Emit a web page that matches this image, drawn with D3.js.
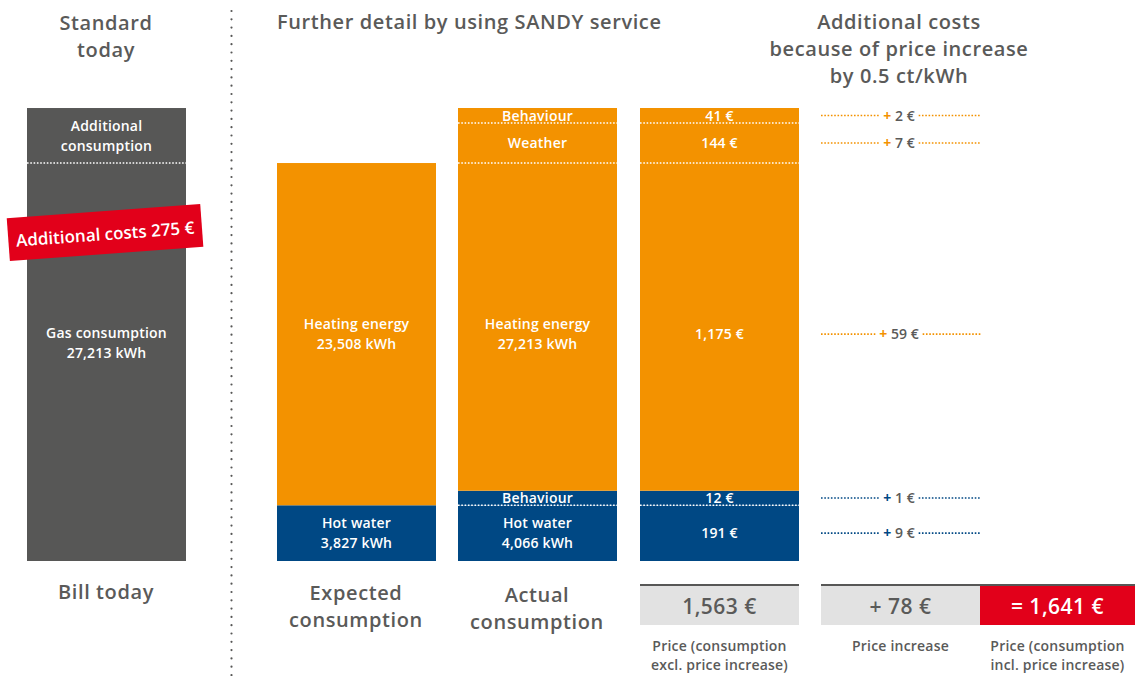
<!DOCTYPE html>
<html><head><meta charset="utf-8">
<script src="https://cdn.jsdelivr.net/npm/d3@7"></script>
<style>
html,body{margin:0;padding:0;background:#fff;}
svg text{font-family:"Open Sans",Roboto,"DejaVu Sans",sans-serif;}
</style></head>
<body><svg id="c" width="1135" height="676"></svg>
<script>
// ---------- data ----------
// column names
const columns = ["Standard today", "Expected consumption", "Actual consumption", "Price"];
// stacked segment heights in kWh, bottom to top, as drawn
const standardSegments = [27335, 3778];                 // gas consumption, additional consumption
const expectedSegments = [3827, 23508];                 // hot water, heating energy
const actualSegments   = [3827, 1000, 22508, 2750, 1030]; // hot water, behaviour, heating, weather, behaviour
const priceSegments    = [3827, 1000, 22508, 2750, 1030];
// labels inside the bars
const standardLabels = [["Gas consumption", "27,213 kWh"], ["Additional", "consumption"]];
const expectedLabels = [["Hot water", "3,827 kWh"], ["Heating energy", "23,508 kWh"]];
const actualLabels   = [["Hot water", "4,066 kWh"], ["Behaviour"], ["Heating energy", "27,213 kWh"], ["Weather"], ["Behaviour"]];
const priceLabels    = [["191 €"], ["12 €"], ["1,175 €"], ["144 €"], ["41 €"]];
// additional costs from price increase, per segment
const increaseLabels = ["+ 9 €", "+ 1 €", "+ 59 €", "+ 7 €", "+ 2 €"];
// totals
const totals = ["1,563 €", "+ 78 €", "= 1,641 €"];
const totalCaptions = [["Price (consumption", "excl. price increase)"], ["Price increase"], ["Price (consumption", "incl. price increase)"]];
const redLabel = "Additional costs 275 €";

// ---------- style ----------
const ORANGE = "#f39200", BLUE = "#004884", DARK = "#575756", RED = "#e2001a", LIGHT = "#e2e2e2", TXT = "#5a5a59";
const svg = d3.select("#c");
const yMax = d3.sum(actualSegments);
const y = d3.scaleLinear().domain([0, yMax]).range([561, 108]);
const x = d3.scaleOrdinal().domain(columns).range([27, 277, 458, 640]);
const BW = 159;

function stack(vals) {
  let acc = 0;
  return vals.map((v, i) => { const s = { i, y0: acc, y1: acc + v }; acc += v; return s; });
}
// cy = vertical centre of the whole block of lines
function multiText(g, cx, cy, lines, size, color, weight, lh, ls) {
  const n = lines.length;
  lines.forEach((l, k) => {
    g.append("text").attr("x", cx).attr("y", cy + (k - (n - 1) / 2) * lh)
      .attr("dy", "0.36em").attr("text-anchor", "middle")
      .attr("letter-spacing", ls || 0)
      .attr("font-size", size).attr("fill", color).attr("font-weight", weight).text(l);
  });
}
function dotted(g, x1, x2, yy, color) {
  g.append("line").attr("x1", x1).attr("x2", x2).attr("y1", yy).attr("y2", yy)
    .attr("stroke", color).attr("stroke-width", 1.6).attr("stroke-dasharray", "1.6,1.7");
}

// ---------- headers ----------
multiText(svg, 106, 36, ["Standard", "today"], 20, TXT, 600, 27, 0.6);
svg.append("text").attr("x", 277).attr("y", 22).attr("dy", "0.36em").attr("font-size", 20).attr("font-weight", 600)
  .attr("letter-spacing", 0.6).attr("fill", TXT).text("Further detail by using SANDY service");
multiText(svg, 899, 49, ["Additional costs", "because of price increase", "by 0.5 ct/kWh"], 20, TXT, 600, 27, 0.6);

// vertical dotted separator
svg.append("line").attr("x1", 231.5).attr("x2", 231.5).attr("y1", 11).attr("y2", 676)
  .attr("stroke", DARK).attr("stroke-width", 2.2).attr("stroke-linecap", "round").attr("stroke-dasharray", "0,8.3");

// ---------- bars ----------
function drawColumn(col, segs, colors, labels, labelOffsets, lines) {
  const g = svg.append("g");
  const x0 = x(col);
  const st = stack(segs);
  g.selectAll("rect").data(st).enter().append("rect")
    .attr("x", x0).attr("width", BW)
    .attr("y", d => y(d.y1)).attr("height", d => y(d.y0) - y(d.y1))
    .attr("fill", d => colors[d.i]);
  st.forEach(d => { if (lines[d.i]) dotted(g, x0, x0 + BW, y(d.y1), "#fff"); });
  st.forEach(d => {
    const cy = (y(d.y0) + y(d.y1)) / 2 + (labelOffsets[d.i] || 0);
    multiText(g, x0 + BW / 2, cy, labels[d.i], 14, "#fff", 600, 20, 0.2);
  });
  return st;
}
drawColumn(columns[0], standardSegments, [DARK, DARK], standardLabels, [-19, 0], [true, false]);
drawColumn(columns[1], expectedSegments, [BLUE, ORANGE], expectedLabels, [0, 0], [false, false]);
const colorsA = [BLUE, BLUE, ORANGE, ORANGE, ORANGE];
// heating labels centred on hot-water top..heating top
const heatOff = ((y(actualSegments[0]) + y(d3.sum(actualSegments.slice(0, 3)))) / 2) -
                ((y(actualSegments[0] + actualSegments[1]) + y(d3.sum(actualSegments.slice(0, 3)))) / 2);
drawColumn(columns[2], actualSegments, colorsA, actualLabels, [0, 0, heatOff, 0, 0], [true, false, true, true, false]);
const stP = drawColumn(columns[3], priceSegments, colorsA, priceLabels, [0, 0, heatOff, 0, 0], [true, false, true, true, false]);

// ---------- red label ----------
const rl = svg.append("g").attr("transform", "translate(105,232) rotate(-4.2)");
rl.append("rect").attr("x", -97).attr("y", -21).attr("width", 194).attr("height", 43).attr("fill", RED);
rl.append("text").attr("x", 0).attr("y", 2).attr("dy", "0.36em").attr("text-anchor", "middle")
  .attr("font-size", 17).attr("font-weight", 600).attr("fill", "#fff").text(redLabel);

// ---------- increase annotations ----------
const ann = svg.append("g");
stP.forEach(d => {
  const cy = (y(d.y0) + y(d.y1)) / 2 + (d.i === 2 ? heatOff : 0);
  const col = d.i < 2 ? BLUE : ORANGE;
  const parts = increaseLabels[d.i].split(" ");
  const t = ann.append("text").attr("x", 899).attr("y", cy).attr("dy", "0.36em").attr("text-anchor", "middle")
    .attr("font-size", 14).attr("font-weight", 600).attr("fill", TXT);
  t.append("tspan").attr("fill", col).attr("font-weight", 700).text(parts[0] + " ");
  t.append("tspan").text(parts.slice(1).join(" "));
  const w = t.node().getComputedTextLength();
  dotted(ann, 821, 899 - w / 2 - 4, cy, col);
  dotted(ann, 899 + w / 2 + 4, 981, cy, col);
});

// ---------- bottom labels ----------
multiText(svg, 106, 592, ["Bill today"], 20, TXT, 600, 27, 0.6);
multiText(svg, 356, 606.5, ["Expected", "consumption"], 20, TXT, 600, 27, 0.6);
multiText(svg, 537, 608.5, ["Actual", "consumption"], 20, TXT, 600, 27, 0.6);

const boxes = [{ x: 640, w: 159, fill: LIGHT, tc: TXT }, { x: 821, w: 159, fill: LIGHT, tc: TXT }, { x: 980, w: 155, fill: RED, tc: "#fff" }];
const bg = svg.append("g");
bg.selectAll("rect").data(boxes).enter().append("rect")
  .attr("x", d => d.x).attr("y", 585).attr("width", d => d.w).attr("height", 40).attr("fill", d => d.fill);
bg.append("rect").attr("x", 640).attr("y", 584).attr("width", 159).attr("height", 2).attr("fill", DARK);
bg.append("rect").attr("x", 821).attr("y", 584).attr("width", 314).attr("height", 2).attr("fill", DARK);
boxes.forEach((b, i) => {
  multiText(bg, b.x + b.w / 2, 606, [totals[i]], 21, b.tc, 600, 20, 0.5);
  multiText(bg, b.x + b.w / 2, 646 + (totalCaptions[i].length - 1) * 9.5, totalCaptions[i], 14, TXT, 600, 19, 0.2);
});
</script></body></html>
